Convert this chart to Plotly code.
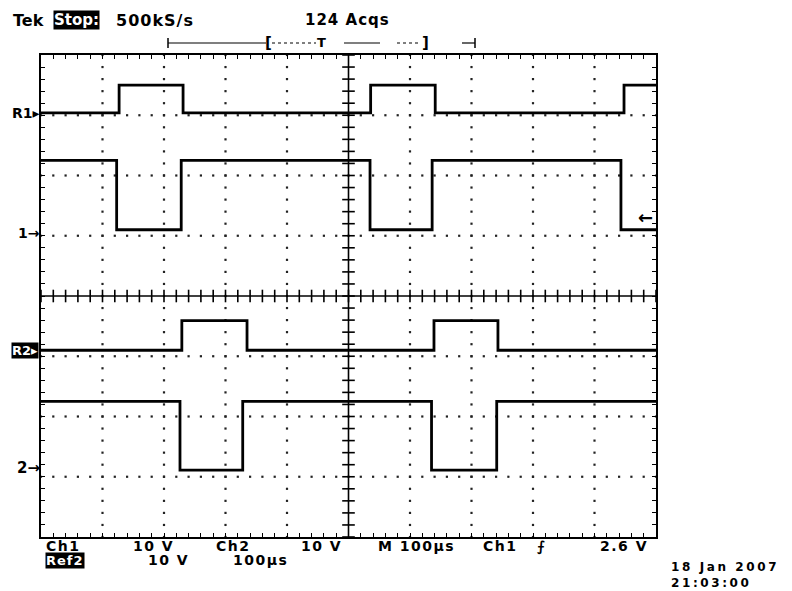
import plotly.graph_objects as go

# ---- data (time in divisions, 100 µs/div; amplitude in divisions, 10 V/div) ----
time_span = [0.0, 10.0]

r1_edges = [1.27, 2.31, 5.36, 6.41, 9.48]
r1_levels = [7.04, 7.50]          # low, high
r1_start = 0                      # index into levels at t=0

ch1_edges = [1.23, 2.28, 5.35, 6.36, 9.43]
ch1_levels = [5.10, 6.25]
ch1_start = 1

r2_edges = [2.29, 3.35, 6.39, 7.43]
r2_levels = [3.10, 3.59]
r2_start = 0

ch2_edges = [2.26, 3.28, 6.35, 7.41]
ch2_levels = [1.11, 2.25]
ch2_start = 1

trigger_level = 5.31

# ---- geometry helpers (layout only) ----
W, H = 792, 591
L, R, T, B = 41, 656, 55, 537


def px(xp):
    return (xp - L) / (R - L)


def py(yp):
    return (B - yp) / (B - T)


def step(edges, levels, start):
    xs = [time_span[0]]
    ys = [levels[start]]
    s = start
    for e in edges:
        s = 1 - s
        xs.append(e)
        ys.append(levels[s])
    xs.append(time_span[1])
    ys.append(levels[s])
    return xs, ys


fig = go.Figure()

# dotted graticule
nx, ny = 10, 8
sub = 5
dx, dy = [], []
for i in range(1, nx):
    if i == nx // 2:
        continue
    for k in range(ny * sub + 1):
        dx.append(i)
        dy.append(k / sub)
for j in range(1, ny):
    if j == ny // 2:
        continue
    for k in range(nx * sub + 1):
        dx.append(k / sub)
        dy.append(j)
fig.add_trace(go.Scatter(x=dx, y=dy, mode="markers",
                         marker=dict(symbol="square", size=2.2, color="#222"),
                         hoverinfo="skip", showlegend=False))

# centre cross ticks
cx = [k / sub for k in range(nx * sub + 1)]
fig.add_trace(go.Scatter(x=cx, y=[ny / 2] * len(cx), mode="markers",
                         marker=dict(symbol="line-ns", size=9,
                                     line=dict(width=1.6, color="black")),
                         hoverinfo="skip", showlegend=False))
cy = [k / sub for k in range(ny * sub + 1)]
fig.add_trace(go.Scatter(x=[nx / 2] * len(cy), y=cy, mode="markers",
                         marker=dict(symbol="line-ew", size=9,
                                     line=dict(width=1.6, color="black")),
                         hoverinfo="skip", showlegend=False))
fig.add_shape(type="line", x0=0, x1=nx, y0=ny / 2, y1=ny / 2,
              line=dict(color="black", width=1.6))
fig.add_shape(type="line", x0=nx / 2, x1=nx / 2, y0=0, y1=ny,
              line=dict(color="black", width=1.6))

# waveforms
for edges, levels, start in [(r1_edges, r1_levels, r1_start),
                             (ch1_edges, ch1_levels, ch1_start),
                             (r2_edges, r2_levels, r2_start),
                             (ch2_edges, ch2_levels, ch2_start)]:
    xs, ys = step(edges, levels, start)
    fig.add_trace(go.Scatter(x=xs, y=ys, mode="lines", line_shape="hv",
                             line=dict(color="black", width=2.8),
                             hoverinfo="skip", showlegend=False))

FONT = "DejaVu Sans"


def txt(x, y, s, size=14, color="black", bg=None, xanchor="left",
        weight="bold", ls=0):
    if ls:
        s = '<span style="letter-spacing:%.1fpx">%s</span>' % (ls, s)
    fig.add_annotation(x=px(x), y=py(y), xref="paper", yref="paper", text=s,
                       showarrow=False, xanchor=xanchor, yanchor="middle",
                       font=dict(family=FONT, size=size, color=color, weight=weight),
                       bgcolor=bg, borderpad=0)


# channel markers on the left
txt(41, 113, "R1▸", 14, xanchor="right")
txt(41, 233, "1→", 14, xanchor="right")
txt(39, 350, "R2▸", 13, color="white", bg="black", xanchor="right")
txt(41, 468, "2→", 15, xanchor="right")

# trigger level arrow
fig.add_annotation(x=9.98, y=trigger_level, xref="x", yref="y", text="←",
                   showarrow=False, xanchor="right", yanchor="middle",
                   font=dict(family=FONT, size=18, color="black", weight="bold"))

# header
txt(12, 20, "Tek", 16)
txt(53, 20, "Stop:", 15, color="white", bg="black")
txt(115, 20, "500kS/s", 16, ls=1)
txt(304, 20, "124 Acqs", 15, ls=1)

# record/timebase bracket at top
ty = 43


def seg(x0, x1, dash="solid", w=1.2):
    fig.add_shape(type="line", xref="paper", yref="paper",
                  x0=px(x0), x1=px(x1), y0=py(ty), y1=py(ty),
                  line=dict(color="black", width=w, dash=dash))


def vtick(x, h=5, w=1.5):
    fig.add_shape(type="line", xref="paper", yref="paper",
                  x0=px(x), x1=px(x), y0=py(ty - h), y1=py(ty + h),
                  line=dict(color="black", width=w))


vtick(168)
seg(168, 266)
txt(268, ty, "[", 15, xanchor="center")
seg(272, 316, "dot")
txt(321, ty - 1, "T", 13, xanchor="center")
seg(344, 380)
seg(397, 421, "dot")
txt(425, ty, "]", 15, xanchor="center")
seg(462, 475)
vtick(475)

# footer
r1 = 546
r2 = 560
txt(45, r1, "Ch1", 14, ls=1.5)
txt(132, r1, "10 V", 14, ls=1.5)
txt(215, r1, "Ch2", 14, ls=1.5)
txt(300, r1, "10 V", 14, ls=1.5)
txt(377, r1, "M 100µs", 14, ls=1.5)
txt(482, r1, "Ch1", 14, ls=1.5)
txt(541, r1, "⨍", 14, xanchor="center")
txt(599, r1, "2.6 V", 14, ls=1.5)
txt(45, r2, "Ref2", 13, color="white", bg="black", ls=1)
txt(147, r2, "10 V", 14, ls=1.5)
txt(232, r2, "100µs", 14, ls=1.5)
fig.add_annotation(x=px(669), y=py(575), xref="paper", yref="paper",
                   text='<span style="letter-spacing:2.6px">18 Jan 2007<br>21:03:00</span>',
                   showarrow=False, xanchor="left", yanchor="middle", align="left",
                   font=dict(family=FONT, size=12, color="black", weight="bold"))

axis_common = dict(showgrid=False, zeroline=False, showticklabels=False,
                   ticks="inside", ticklen=4, tickwidth=1.2, tickcolor="black",
                   showline=True, linewidth=2, linecolor="black", mirror="ticks",
                   fixedrange=True)
fig.update_xaxes(range=time_span, dtick=0.2, tick0=0, **axis_common)
fig.update_yaxes(range=[0, ny], dtick=0.2, tick0=0, **axis_common)

fig.update_layout(width=W, height=H, margin=dict(l=L, r=W - R, t=T, b=H - B),
                  plot_bgcolor="white", paper_bgcolor="white", showlegend=False)

fig.write_html("out.html", config={"displayModeBar": False},
               post_script="document.body.style.margin='0';"
                           "document.body.style.overflow='hidden';")
